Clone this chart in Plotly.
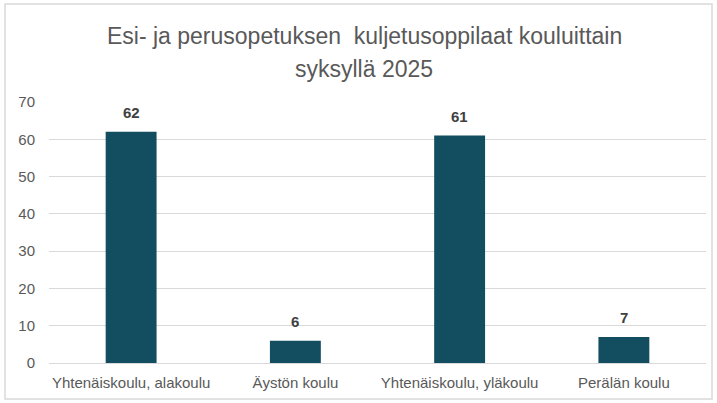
import plotly.graph_objects as go

categories = ["Yhtenäiskoulu, alakoulu", "Äystön koulu", "Yhtenäiskoulu, yläkoulu", "Perälän koulu"]
values = [62, 6, 61, 7]
y_ticks = [0, 10, 20, 30, 40, 50, 60, 70]
title_lines = ["Esi- ja perusopetuksen  kuljetusoppilaat kouluittain", "syksyllä 2025"]

FONT = "Liberation Sans Narrow, Arial Narrow, sans-serif"

fig = go.Figure(go.Bar(
    x=categories, y=values,
    marker=dict(color="#124E60", line=dict(width=0)),
    width=0.31,
    hoverinfo="x+y",
))

for c, v in zip(categories, values):
    fig.add_annotation(x=c, y=v, text=f"<b>{v}</b>", showarrow=False,
                       yanchor="bottom", yshift=9,
                       font=dict(family=FONT, size=15, color="#404040"))

for i, t in enumerate(title_lines):
    fig.add_annotation(xref="paper", yref="paper", x=0.48, y=1 + (66 - 33 * i) / 261,
                       text=t, showarrow=False, xanchor="center", yanchor="middle",
                       font=dict(family=FONT, size=23, color="#595959"))

fig.update_layout(
    width=717, height=403,
    margin=dict(l=49, r=11, t=102, b=40),
    paper_bgcolor="white", plot_bgcolor="white",
    font=dict(family=FONT, color="#595959"),
    showlegend=False,
    bargap=0.69,
)
fig.update_xaxes(showline=True, linecolor="#D9D9D9", linewidth=1,
                 tickfont=dict(family=FONT, size=15, color="#595959"), ticks="",
                 ticklabelstandoff=6)
fig.update_yaxes(range=[0, 70], tickvals=y_ticks, showgrid=True, gridcolor="#D9D9D9",
                 zeroline=False, showline=False, ticks="", ticklabelstandoff=13,
                 tickfont=dict(family=FONT, size=15, color="#595959"))

fig.add_shape(type="rect", xref="paper", yref="paper",
              x0=-44/657, x1=1 + 6/657, y0=-36/261, y1=1 + 98/261,
              line=dict(color="#D9D9D9", width=1.5), fillcolor="rgba(0,0,0,0)", layer="below")

fig.write_html("out.html", config={"displayModeBar": False},
               post_script="document.body.style.margin='0';document.body.style.padding='0';")
